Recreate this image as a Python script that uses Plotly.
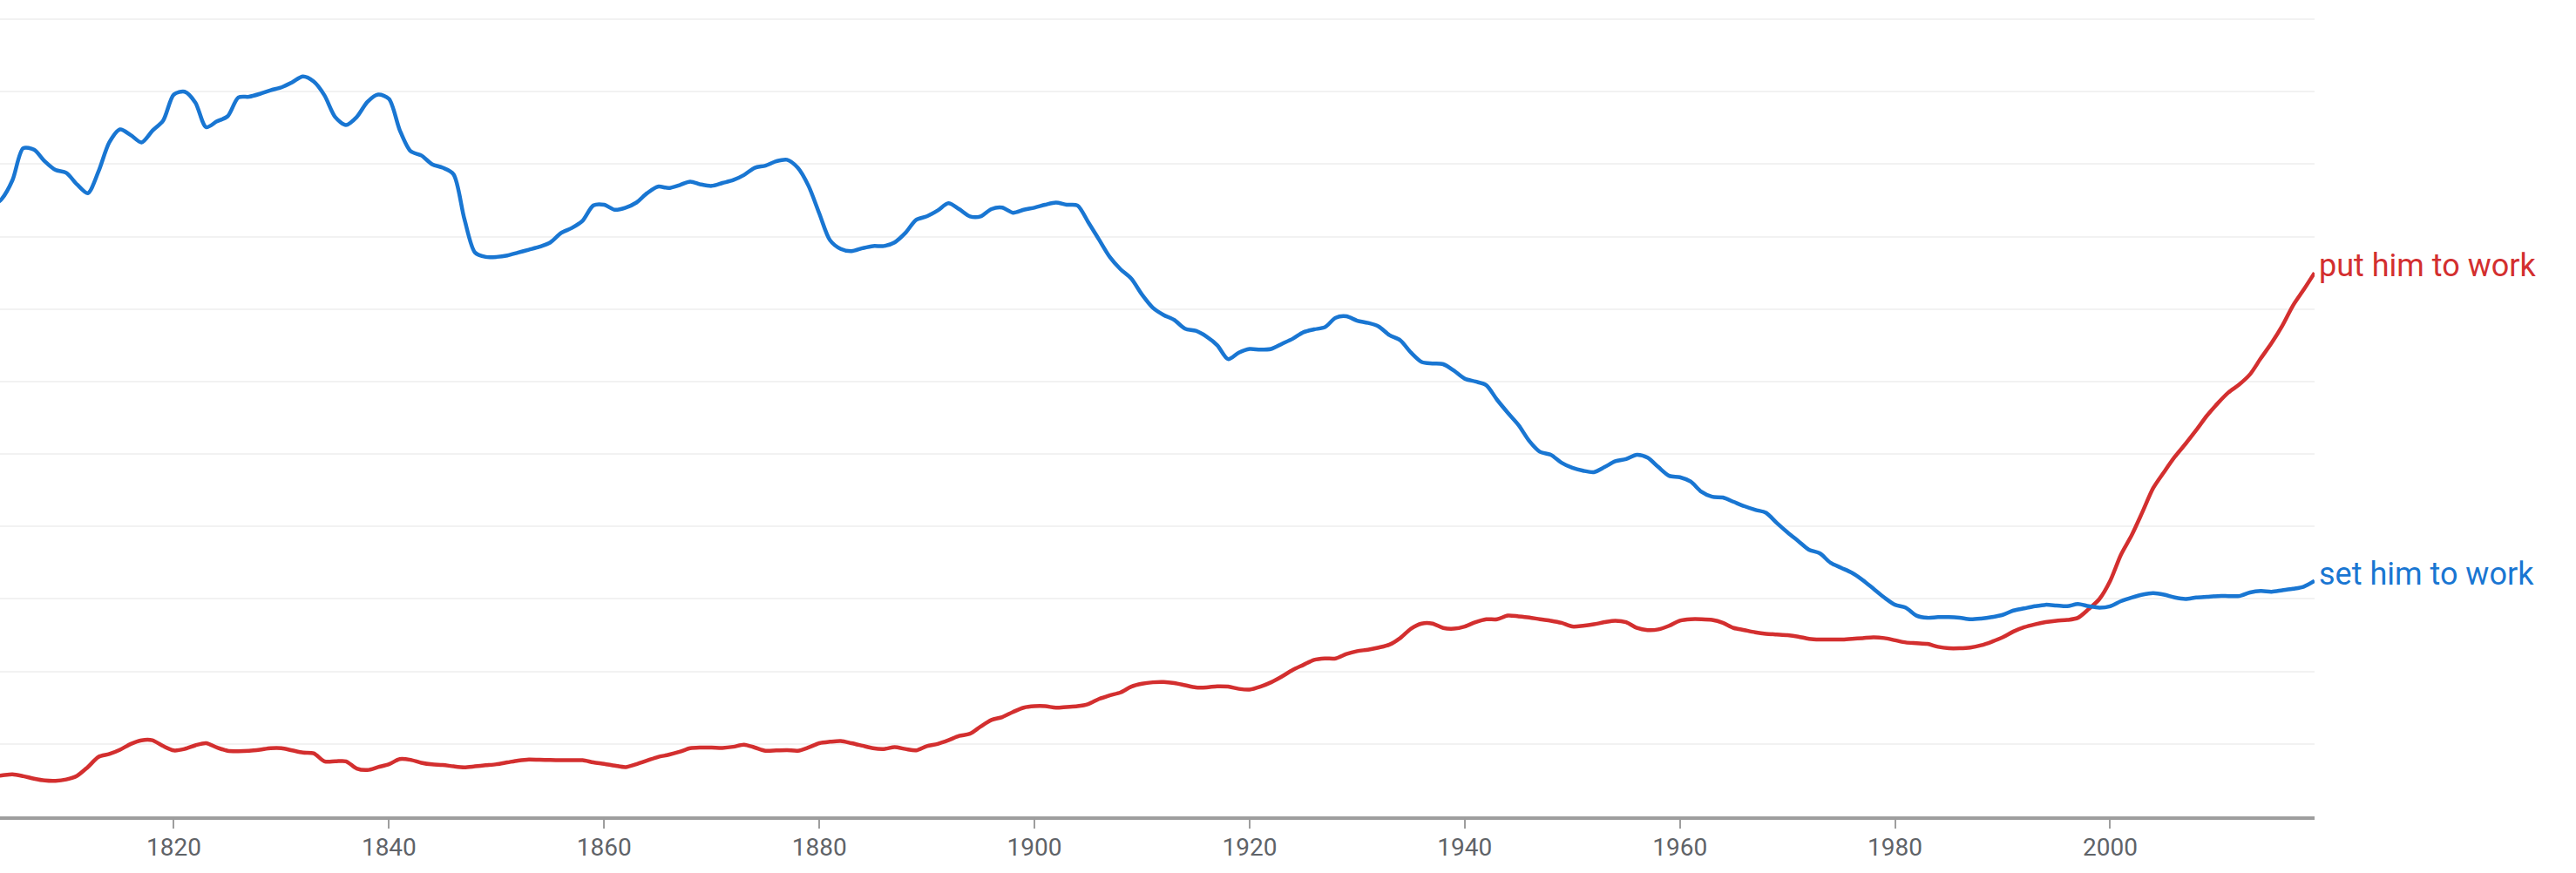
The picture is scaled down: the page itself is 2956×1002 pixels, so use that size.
import plotly.graph_objects as go

years = list(range(1803, 2020))

# frequency values (arbitrary units, one unit per gridline)
set_him_to_work = [
    8.40, 8.52, 8.78, 9.22, 9.20, 9.04, 8.92, 8.88, 8.72, 8.60,
    8.90, 9.30, 9.48, 9.40, 9.30, 9.46, 9.60, 9.96, 10.00, 9.85,
    9.51, 9.59, 9.66, 9.92, 9.93, 9.97, 10.02, 10.06, 10.13, 10.21,
    10.14, 9.95, 9.65, 9.54, 9.65, 9.86, 9.96, 9.90, 9.47, 9.18,
    9.12, 9.00, 8.95, 8.86, 8.25, 7.78, 7.72, 7.72, 7.74, 7.78,
    7.82, 7.86, 7.92, 8.05, 8.12, 8.22, 8.43, 8.44, 8.37, 8.40,
    8.47, 8.60, 8.69, 8.67, 8.71, 8.76, 8.72, 8.70, 8.74, 8.78,
    8.85, 8.95, 8.98, 9.04, 9.06, 8.95, 8.70, 8.32, 7.95, 7.83,
    7.80, 7.84, 7.87, 7.87, 7.92, 8.05, 8.23, 8.28, 8.36, 8.46,
    8.38, 8.28, 8.28, 8.38, 8.40, 8.33, 8.37, 8.40, 8.44, 8.47,
    8.44, 8.43, 8.20, 7.96, 7.72, 7.55, 7.42, 7.20, 7.02, 6.92,
    6.85, 6.73, 6.70, 6.62, 6.50, 6.31, 6.40, 6.45, 6.44, 6.45,
    6.52, 6.59, 6.68, 6.72, 6.75, 6.88, 6.90, 6.84, 6.81, 6.76,
    6.64, 6.57, 6.40, 6.27, 6.25, 6.24, 6.15, 6.04, 6.00, 5.95,
    5.75, 5.57, 5.40, 5.18, 5.03, 4.99, 4.88, 4.81, 4.77, 4.75,
    4.82, 4.90, 4.93, 4.99, 4.95, 4.82, 4.70, 4.68, 4.62, 4.48,
    4.41, 4.40, 4.34, 4.28, 4.23, 4.19, 4.05, 3.92, 3.80, 3.68,
    3.63, 3.50, 3.43, 3.36, 3.26, 3.14, 3.02, 2.92, 2.88, 2.77,
    2.74, 2.75, 2.75, 2.74, 2.72, 2.73, 2.75, 2.78, 2.84, 2.87,
    2.90, 2.92, 2.91, 2.90, 2.93, 2.90, 2.88, 2.90, 2.97, 3.02,
    3.06, 3.08, 3.06, 3.02, 3.00, 3.02, 3.03, 3.04, 3.04, 3.04,
    3.09, 3.11, 3.10, 3.12, 3.14, 3.17, 3.25,
]

put_him_to_work = [
    0.55, 0.565, 0.58, 0.555, 0.52, 0.495, 0.49, 0.51, 0.56, 0.68,
    0.82, 0.86, 0.92, 1.00, 1.05, 1.05, 0.97, 0.91, 0.93, 0.98,
    1.01, 0.95, 0.905, 0.90, 0.905, 0.92, 0.94, 0.94, 0.91, 0.88,
    0.87, 0.76, 0.76, 0.76, 0.66, 0.64, 0.68, 0.72, 0.79, 0.78,
    0.74, 0.717, 0.71, 0.69, 0.677, 0.69, 0.705, 0.72, 0.745, 0.77,
    0.785, 0.78, 0.777, 0.775, 0.775, 0.775, 0.745, 0.725, 0.70, 0.68,
    0.72, 0.77, 0.82, 0.85, 0.89, 0.94, 0.95, 0.95, 0.945, 0.96,
    0.99, 0.95, 0.905, 0.91, 0.915, 0.905, 0.95, 1.01, 1.03, 1.04,
    1.01, 0.975, 0.94, 0.93, 0.955, 0.93, 0.91, 0.97, 1.00, 1.05,
    1.11, 1.14, 1.24, 1.33, 1.37, 1.44, 1.50, 1.52, 1.52, 1.50,
    1.51, 1.52, 1.55, 1.62, 1.67, 1.71, 1.79, 1.83, 1.85, 1.855,
    1.84, 1.81, 1.78, 1.78, 1.795, 1.79, 1.76, 1.75, 1.79, 1.85,
    1.93, 2.02, 2.09, 2.16, 2.18, 2.18, 2.24, 2.28, 2.30, 2.33,
    2.37, 2.46, 2.59, 2.66, 2.66, 2.60, 2.59, 2.62, 2.68, 2.72,
    2.72, 2.77, 2.76, 2.745, 2.72, 2.70, 2.67, 2.62, 2.63, 2.65,
    2.68, 2.70, 2.68, 2.60, 2.57, 2.58, 2.63, 2.70, 2.72, 2.72,
    2.71, 2.67, 2.60, 2.57, 2.54, 2.52, 2.51, 2.50, 2.48, 2.45,
    2.44, 2.44, 2.44, 2.45, 2.46, 2.47, 2.46, 2.43, 2.40, 2.39,
    2.38, 2.34, 2.32, 2.32, 2.33, 2.36, 2.41, 2.47, 2.55, 2.61,
    2.65, 2.68, 2.70, 2.71, 2.74, 2.86, 3.00, 3.25, 3.61, 3.88,
    4.20, 4.53, 4.75, 4.96, 5.14, 5.33, 5.53, 5.70, 5.85, 5.96,
    6.10, 6.32, 6.53, 6.77, 7.05, 7.27, 7.50,
]

tick_years = [1820, 1840, 1860, 1880, 1900, 1920, 1940, 1960, 1980, 2000]
series_names = ["put him to work", "set him to work"]
RED = "#d32f2f"
BLUE = "#1976d2"

fig = go.Figure()
fig.add_trace(go.Scatter(x=years, y=put_him_to_work, mode="lines", name=series_names[0],
                         line=dict(color=RED, width=4.5, shape="spline", smoothing=0.8)))
fig.add_trace(go.Scatter(x=years, y=set_him_to_work, mode="lines", name=series_names[1],
                         line=dict(color=BLUE, width=4.5, shape="spline", smoothing=0.8)))

for name, vals, col in [(series_names[0], put_him_to_work, RED),
                        (series_names[1], set_him_to_work, BLUE)]:
    fig.add_annotation(x=1, xref="paper", y=vals[-1], yref="y", text=name,
                       showarrow=False, xanchor="left", yanchor="middle",
                       xshift=3, yshift=8,
                       font=dict(family="Roboto", size=36, color=col))

fig.update_layout(
    width=2956, height=1002,
    margin=dict(l=0, r=300, t=10, b=65, pad=0, autoexpand=False),
    paper_bgcolor="white", plot_bgcolor="white",
    showlegend=False,
    font=dict(family="Roboto"),
)
fig.update_xaxes(
    range=[1803.84, 2019.0], tickmode="array", tickvals=tick_years,
    ticktext=[str(t) for t in tick_years],
    ticks="outside", ticklen=10, tickwidth=2, tickcolor="#9e9e9e",
    showline=True, linecolor="#9e9e9e", linewidth=4,
    showgrid=False, zeroline=False, automargin=False,
    ticklabelstandoff=-3,
    tickfont=dict(family="Roboto", size=28, color="#5f6368"),
)
fig.update_yaxes(
    range=[0, 11.145], dtick=1, tick0=0, showgrid=True, gridcolor="#f2f2f2", gridwidth=2,
    showticklabels=False, zeroline=False, showline=False, ticks="", automargin=False,
)

fig.write_html(
    "out.html",
    config={"displayModeBar": False},
    post_script="document.body.style.margin='0';document.body.style.overflow='hidden';",
)
